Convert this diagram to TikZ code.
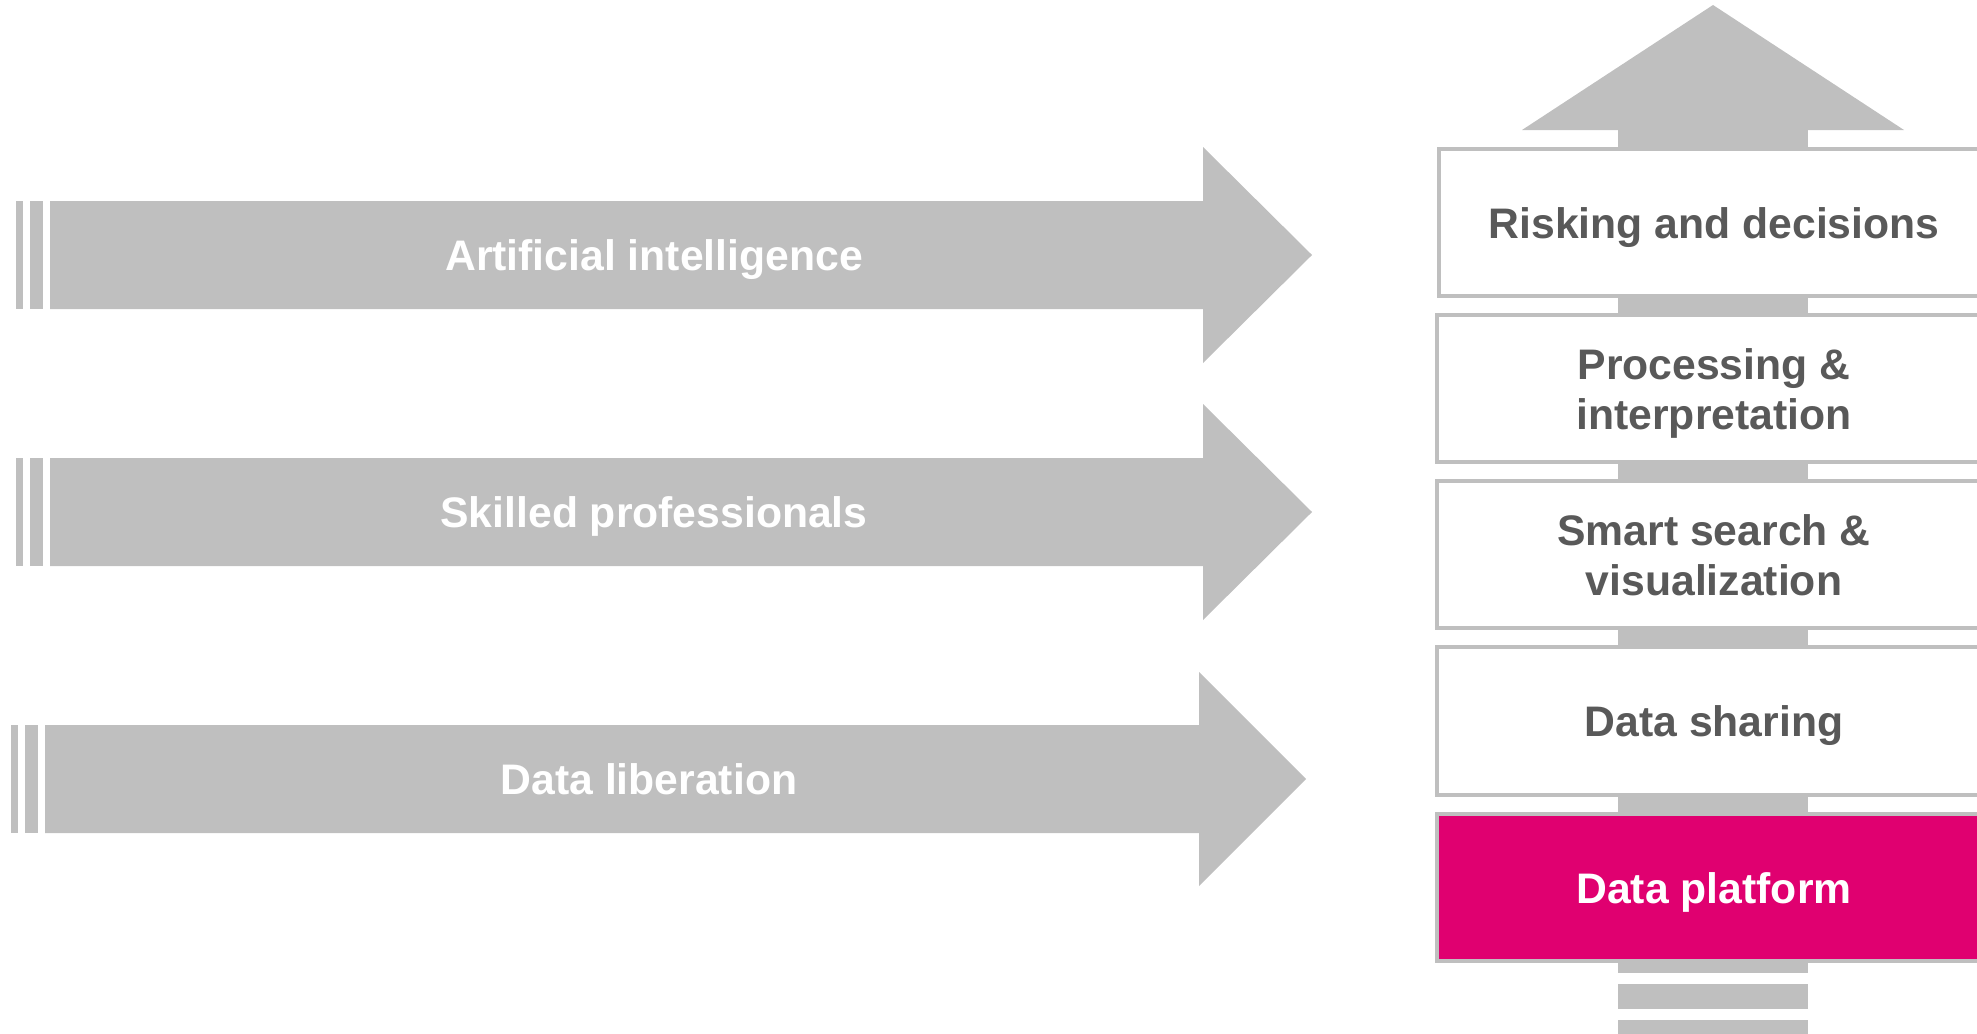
\documentclass[tikz,border=0pt]{standalone}
\usepackage{fontspec}
\setmainfont{Liberation Sans}
\definecolor{gr}{HTML}{BFBFBF}
\definecolor{txt}{HTML}{595959}
\definecolor{pinkc}{HTML}{E00070}
\begin{document}
\begin{tikzpicture}[x=1pt,y=-1pt,
  arrowlbl/.style={text=white,inner sep=0pt,text height=30.6pt,text depth=0pt,font=\bfseries\fontsize{42.7}{50}\selectfont},
  boxlbl/.style={text=txt,inner sep=0pt,text height=30.6pt,text depth=0pt,align=center,font=\bfseries\fontsize{42.7}{50}\selectfont},
  twoline/.style={text height=80.6pt},
  boxstyle/.style={draw=gr,line width=4pt,fill=white}]
\useasboundingbox (0,0) rectangle (1977,1033);
\clip (0,0) rectangle (1977,1033);
% vertical arrow
\fill[gr] (1618,125) rectangle (1808,973);
\fill[gr] (1522,130) -- (1713,5) -- (1904,130) -- cycle;
\fill[gr] (1618,984) rectangle (1808,1009);
\fill[gr] (1618,1020) rectangle (1808,1045);
% horizontal arrows
\fill[gr] (16,201) rectangle (23,309);
\fill[gr] (30,201) rectangle (43,309);
\fill[gr] (50,201) -- (1203,201) -- (1203,147) -- (1312,255) -- (1203,363) -- (1203,309) -- (50,309) -- cycle;
\fill[gr] (16,458) rectangle (23,566);
\fill[gr] (30,458) rectangle (43,566);
\fill[gr] (50,458) -- (1203,458) -- (1203,404) -- (1312,512) -- (1203,620) -- (1203,566) -- (50,566) -- cycle;
\fill[gr] (11,725) rectangle (18,833);
\fill[gr] (25,725) rectangle (38,833);
\fill[gr] (45,725) -- (1199,725) -- (1199,672) -- (1306,779) -- (1199,886) -- (1199,833) -- (45,833) -- cycle;
\node[arrowlbl] (a1) at (654,255) {Artificial intelligence};
\node[arrowlbl] (a2) at (654,512) {Skilled professionals};
\node[arrowlbl] (a3) at (649,779) {Data liberation};
% boxes
\path[boxstyle] (1439,149) rectangle (2000,296);
\path[boxstyle] (1437,315) rectangle (2000,462);
\path[boxstyle] (1437,481) rectangle (2000,628);
\path[boxstyle] (1437,647) rectangle (2000,795);
\path[boxstyle,fill=pinkc] (1437,814) rectangle (2000,961);
\node[boxlbl] (b1) at (1714,223) {Risking and decisions};
\node[boxlbl,twoline] (b2) at (1714,389) {Processing \&\\interpretation};
\node[boxlbl,twoline] (b3) at (1714,555) {Smart search \&\\visualization};
\node[boxlbl] (b4) at (1714,721) {Data sharing};
\node[boxlbl,text=white] (b5) at (1714,888) {Data platform};
\end{tikzpicture}
\end{document}
